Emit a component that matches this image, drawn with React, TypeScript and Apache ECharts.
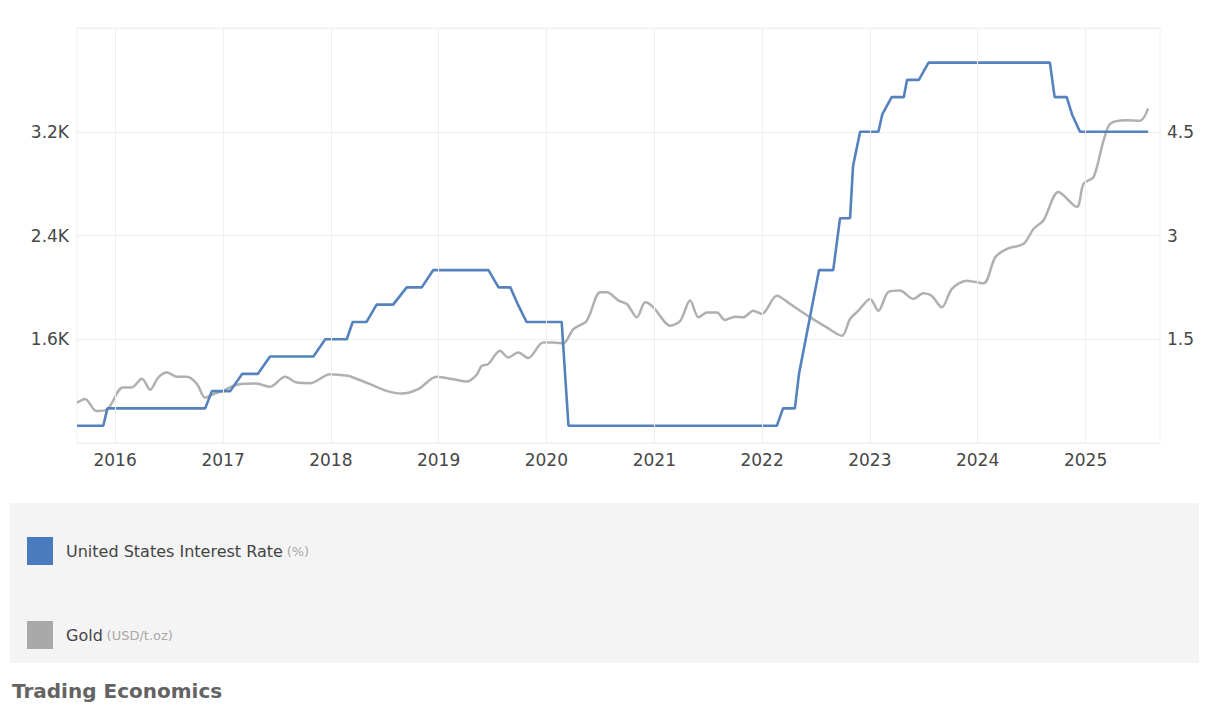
import React, { useEffect, useRef } from "react";
import * as echarts from "echarts";

const FONT = "'DejaVu Sans', 'Liberation Sans', Arial, sans-serif";

const rateName = "United States Interest Rate";
const goldName = "Gold";

const xMin = "2015-08-25";
const xMax = "2025-09-10";

const yearTicks = [
  "2016-01-01", "2017-01-01", "2018-01-01", "2019-01-01", "2020-01-01",
  "2021-01-01", "2022-01-01", "2023-01-01", "2024-01-01", "2025-01-01",
];

const rateDates = [
  "2015-08-25", "2015-11-22", "2015-12-06", "2016-11-01", "2016-11-24",
  "2017-01-25", "2017-03-07", "2017-04-29", "2017-06-09", "2017-11-03",
  "2017-12-13", "2018-02-24", "2018-03-16", "2018-05-02", "2018-06-05",
  "2018-07-31", "2018-09-15", "2018-11-05", "2018-12-14", "2019-06-19",
  "2019-07-23", "2019-09-01", "2019-09-27", "2019-10-26", "2020-02-22",
  "2020-03-16", "2022-02-20", "2022-03-13", "2022-04-22", "2022-05-06",
  "2022-06-09", "2022-07-13", "2022-08-30", "2022-09-22", "2022-10-26",
  "2022-11-05", "2022-11-29", "2023-01-30", "2023-02-12", "2023-03-16",
  "2023-04-26", "2023-05-07", "2023-06-16", "2023-07-19", "2024-09-02",
  "2024-09-18", "2024-10-29", "2024-11-16", "2024-12-13", "2025-08-01",
];
const rateValues = [
  0.25, 0.25, 0.5, 0.5, 0.75,
  0.75, 1.0, 1.0, 1.25, 1.25,
  1.5, 1.5, 1.75, 1.75, 2.0,
  2.0, 2.25, 2.25, 2.5, 2.5,
  2.25, 2.25, 2.0, 1.75, 1.75,
  0.25, 0.25, 0.5, 0.5, 1.0,
  1.75, 2.5, 2.5, 3.25, 3.25,
  4.0, 4.5, 4.5, 4.75, 5.0,
  5.0, 5.25, 5.25, 5.5, 5.5,
  5.0, 5.0, 4.75, 4.5, 4.5,
];

const goldDates = [
  "2015-08-25", "2015-09-21", "2015-10-30", "2015-12-03", "2016-01-27",
  "2016-02-26", "2016-04-01", "2016-04-29", "2016-05-26", "2016-06-25",
  "2016-07-29", "2016-09-01", "2016-10-04", "2016-11-01", "2016-11-30",
  "2017-01-01", "2017-02-04", "2017-03-09", "2017-04-24", "2017-06-08",
  "2017-07-30", "2017-09-08", "2017-10-23", "2017-12-29", "2018-03-01",
  "2018-03-17", "2018-05-14", "2018-07-09", "2018-08-29", "2018-10-24",
  "2018-12-25", "2019-02-20", "2019-04-06", "2019-05-10", "2019-05-27",
  "2019-06-18", "2019-07-28", "2019-08-25", "2019-09-28", "2019-11-01",
  "2019-12-21", "2020-01-24", "2020-02-27", "2020-04-02", "2020-05-17",
  "2020-07-01", "2020-07-24", "2020-09-02", "2020-09-30", "2020-11-03",
  "2020-12-01", "2020-12-29", "2021-02-24", "2021-03-30", "2021-05-02",
  "2021-05-31", "2021-06-28", "2021-08-01", "2021-08-28", "2021-10-01",
  "2021-10-29", "2021-12-02", "2021-12-31", "2022-02-20", "2022-04-06",
  "2022-06-13", "2022-08-08", "2022-09-28", "2022-10-26", "2022-11-23",
  "2023-01-02", "2023-01-30", "2023-03-04", "2023-04-13", "2023-05-28",
  "2023-07-01", "2023-07-29", "2023-09-02", "2023-10-06", "2023-11-25",
  "2024-01-21", "2024-03-01", "2024-04-10", "2024-06-05", "2024-07-09",
  "2024-08-11", "2024-10-01", "2024-12-02", "2024-12-25", "2025-01-28",
  "2025-03-03", "2025-03-26", "2025-05-21", "2025-07-04", "2025-08-01",
];
const goldValues = [
  1111, 1140, 1047, 1055, 1228,
  1228, 1295, 1210, 1305, 1343,
  1310, 1310, 1256, 1150, 1178,
  1202, 1240, 1256, 1258, 1233,
  1310, 1266, 1261, 1331, 1318,
  1305, 1254, 1202, 1181, 1215,
  1310, 1292, 1274, 1326, 1395,
  1408, 1511, 1459, 1498, 1455,
  1575, 1575, 1568, 1679, 1743,
  1962, 1962, 1898, 1872, 1769,
  1885, 1846, 1704, 1743, 1898,
  1769, 1807, 1807, 1748, 1774,
  1769, 1820, 1795, 1936, 1872,
  1769, 1691, 1627, 1756, 1820,
  1911, 1820, 1962, 1975, 1911,
  1954, 1936, 1846, 1988, 2052,
  2031, 2232, 2297, 2336, 2452,
  2516, 2735, 2619, 2800, 2851,
  3134, 3263, 3289, 3284, 3380,
];

const goldTicks = { min: 800, max: 4000, interval: 800 };
const rateTicks = { min: 0, max: 6, interval: 1.5 };

const toTs = (s: string) => {
  const [y, m, d] = s.split("-").map(Number);
  return new Date(y, m - 1, d).getTime();
};

const YEAR_MS = 365.25 * 24 * 3600 * 1000;

export default function App() {
  const ref = useRef<HTMLDivElement>(null);

  useEffect(() => {
    if (!ref.current) return;
    const chart = echarts.init(ref.current, undefined, { renderer: "svg" });
    const yearTs = yearTicks.map(toTs);
    const labelStyle = { color: "#474747", fontSize: 17, fontFamily: FONT };

    chart.setOption({
      animation: false,
      backgroundColor: "#ffffff",
      grid: {
        left: 77,
        right: 49,
        top: 28,
        bottom: 266,
        show: true,
        borderColor: "#efefef",
        borderWidth: 1,
        backgroundColor: "transparent",
      },
      xAxis: {
        type: "time",
        min: toTs(xMin),
        max: toTs(xMax),
        minInterval: YEAR_MS,
        maxInterval: YEAR_MS,
        axisLine: { show: false },
        axisTick: { show: false },
        splitLine: { show: false },
        axisLabel: {
          ...labelStyle,
          margin: 8,
          showMinLabel: false,
          showMaxLabel: false,
          hideOverlap: false,
          formatter: (v: number) => {
            const d = new Date(v);
            return d.getMonth() === 0 && d.getDate() === 1
              ? String(d.getFullYear())
              : "";
          },
        },
      },
      yAxis: [
        {
          type: "value",
          position: "left",
          min: goldTicks.min,
          max: goldTicks.max,
          interval: goldTicks.interval,
          axisLine: { show: false },
          axisTick: { show: false },
          splitLine: { show: true, lineStyle: { color: "#efefef", width: 1 } },
          axisLabel: {
            ...labelStyle,
            margin: 8,
            showMinLabel: false,
            showMaxLabel: false,
            formatter: (v: number) => `${v / 1000}K`,
          },
        },
        {
          type: "value",
          position: "right",
          min: rateTicks.min,
          max: rateTicks.max,
          interval: rateTicks.interval,
          axisLine: { show: false },
          axisTick: { show: false },
          splitLine: { show: false },
          axisLabel: {
            ...labelStyle,
            margin: 7,
            showMinLabel: false,
            showMaxLabel: false,
            formatter: (v: number) => String(v),
          },
        },
      ],
      legend: {
        orient: "vertical",
        left: 22,
        top: 532,
        itemWidth: 26,
        itemHeight: 28,
        itemGap: 56,
        icon: "rect",
        selectedMode: false,
        data: [rateName, goldName],
        formatter: (name: string) =>
          name === rateName
            ? `{g| }{a|${name}} {b|(%)}`
            : `{g| }{a|${name}} {b|(USD/t.oz)}`,
        textStyle: {
          fontFamily: FONT,
          rich: {
            g: { width: 8 },
            a: { fontSize: 16, color: "#444444", fontFamily: FONT },
            b: { fontSize: 13, color: "#a8a8a8", fontFamily: FONT },
          },
        },
      },
      graphic: [
        {
          type: "rect",
          z: -10,
          silent: true,
          shape: { x: 10, y: 503, width: 1189, height: 160 },
          style: { fill: "#f4f4f4" },
        },
        {
          type: "text",
          x: 12,
          y: 691,
          silent: true,
          style: {
            text: "Trading Economics",
            fill: "#636363",
            fontSize: 20,
            fontWeight: "bold",
            fontFamily: FONT,
            verticalAlign: "middle",
          },
        },
      ],
      series: [
        {
          name: goldName,
          type: "line",
          yAxisIndex: 0,
          showSymbol: false,
          symbol: "none",
          smooth: 0.3,
          color: "#adadad",
          itemStyle: { color: "#a9a9a9" },
          lineStyle: { color: "#b0b0b0", width: 2.5 },
          data: goldDates.map((d, i) => [toTs(d), goldValues[i]]),
          markLine: {
            silent: true,
            symbol: "none",
            label: { show: false },
            lineStyle: { color: "#efefef", width: 1, type: "solid" },
            data: yearTs.map((t) => ({ xAxis: t })),
          },
          z: 2,
        },
        {
          name: rateName,
          type: "line",
          yAxisIndex: 1,
          showSymbol: false,
          symbol: "none",
          color: "#4a7bbf",
          itemStyle: { color: "#4a7bbf" },
          lineStyle: { color: "#5582bd", width: 2.6 },
          data: rateDates.map((d, i) => [toTs(d), rateValues[i]]),
          z: 3,
        },
      ],
    });

    return () => chart.dispose();
  }, []);

  return (
    <div
      ref={ref}
      style={{
        position: "fixed",
        left: 0,
        top: 0,
        width: 1209,
        height: 709,
        background: "#ffffff",
      }}
    />
  );
}
